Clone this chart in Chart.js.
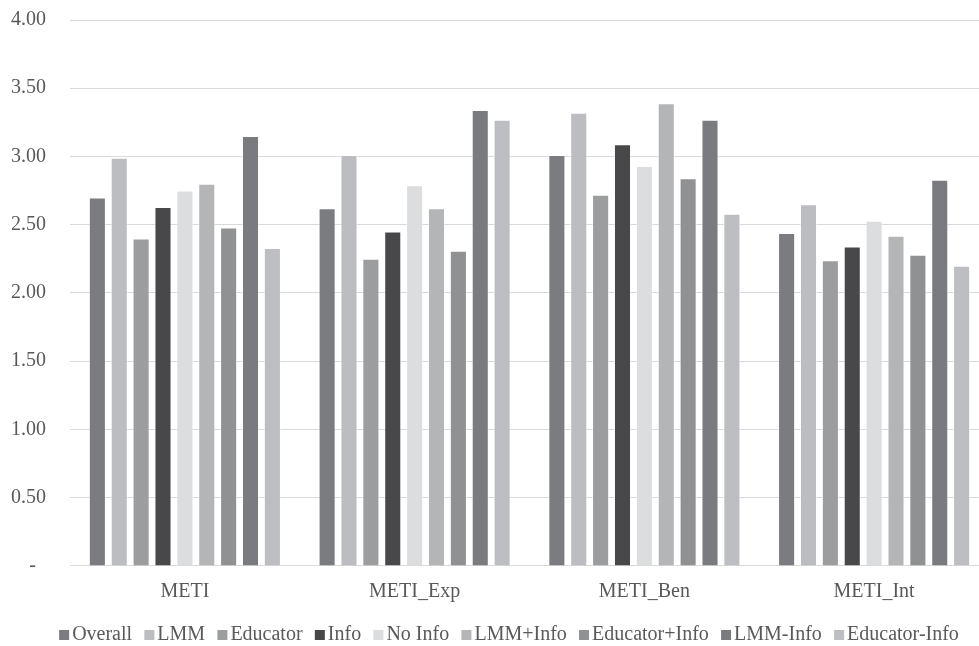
<!DOCTYPE html>
<html>
<head>
<meta charset="utf-8">
<script src="https://cdn.jsdelivr.net/npm/chart.js@4/dist/chart.umd.min.js"></script>
<style>
  html, body { margin: 0; padding: 0; background: #ffffff; overflow: hidden; }
  #wrap { position: relative; width: 1011px; height: 646px; }
</style>
</head>
<body>
<div id="wrap"><canvas id="chart"></canvas></div>
<script>
// Scale groups along the x axis
const categories = ['METI', 'METI_Exp', 'METI_Ben', 'METI_Int'];

// Mean scores per participant group
const overall      = [2.70, 2.62, 3.01, 2.44];
const lmm          = [2.99, 3.01, 3.32, 2.65];
const educator     = [2.40, 2.25, 2.72, 2.24];
const info         = [2.63, 2.45, 3.09, 2.34];
const noInfo       = [2.75, 2.79, 2.93, 2.53];
const lmmInfo      = [2.80, 2.62, 3.39, 2.42];
const educatorInfo = [2.48, 2.31, 2.84, 2.28];
const lmmNoInfo    = [3.15, 3.34, 3.27, 2.83];
const educatorNoInfo = [2.33, 3.27, 2.58, 2.20];

const seriesNames = ['Overall', 'LMM', 'Educator', 'Info', 'No Info',
                     'LMM+Info', 'Educator+Info', 'LMM-Info', 'Educator-Info'];
const seriesValues = [overall, lmm, educator, info, noInfo,
                      lmmInfo, educatorInfo, lmmNoInfo, educatorNoInfo];
const seriesColors = ['#7b7c80', '#bcbdc0', '#9c9d9f', '#48484a', '#dcdddf',
                      '#b4b5b7', '#909193', '#7a7b7f', '#bdbec1'];

// y axis ticks, 0 shown as an accounting dash
const yTicks = [0, 0.5, 1.0, 1.5, 2.0, 2.5, 3.0, 3.5, 4.0];

const textColor = '#595959';
const gridColor = '#d9d9d9';
const font = { family: '"Liberation Serif", "Times New Roman", serif', size: 20 };

const datasets = seriesNames.map((name, i) => ({
  label: name,
  data: seriesValues[i],
  backgroundColor: seriesColors[i],
  borderColor: 'rgba(255,255,255,0.55)',
  borderWidth: 1,
  borderSkipped: 'bottom',
  categoryPercentage: 0.857,
  barPercentage: 0.78
}));

// Legend swatches are drawn closer to their text than Chart.js does by default
const legendSwatches = {
  id: 'legendSwatches',
  afterDraw(chart) {
    const legend = chart.legend;
    if (!legend || !legend.legendHitBoxes) return;
    const ctx = chart.ctx;
    const size = 10;
    ctx.save();
    legend.legendHitBoxes.forEach((box, i) => {
      const textX = box.left + size + font.size / 2;
      const cy = box.top + box.height / 2;
      ctx.fillStyle = seriesColors[i];
      ctx.fillRect(textX - 3 - size, cy - size / 2, size, size);
    });
    ctx.restore();
  }
};

new Chart(document.getElementById('chart'), {
  type: 'bar',
  data: { labels: categories, datasets },
  plugins: [legendSwatches],
  options: {
    responsive: true,
    maintainAspectRatio: false,
    animation: false,
    devicePixelRatio: 1,
    layout: { padding: { top: 20, right: 0, left: 0, bottom: -9 } },
    plugins: {
      tooltip: { enabled: false },
      legend: {
        position: 'bottom',
        labels: {
          font,
          color: textColor,
          boxWidth: 10,
          boxHeight: 10,
          padding: 5.25,
          generateLabels: (chart) => chart.data.datasets.map((ds, i) => ({
            text: ds.label,
            fillStyle: 'rgba(0,0,0,0)',
            strokeStyle: 'rgba(0,0,0,0)',
            lineWidth: 0,
            fontColor: textColor,
            hidden: false,
            datasetIndex: i
          }))
        }
      }
    },
    scales: {
      x: {
        grid: { display: false, drawTicks: false },
        border: { display: true, color: gridColor, width: 1 },
        ticks: { font, color: textColor, padding: 14 },
        afterFit: (axis) => { axis.height = 53.8; }
      },
      y: {
        min: 0,
        max: 4,
        afterBuildTicks: (axis) => { axis.ticks = yTicks.map(v => ({ value: v })); },
        afterFit: (axis) => { axis.width = 70; },
        // invisible tick marks keep the labels clear of the plot area
        grid: { color: gridColor, lineWidth: 1, drawTicks: true, tickLength: 24, tickColor: 'rgba(0,0,0,0)' },
        border: { display: false },
        ticks: {
          font,
          color: textColor,
          padding: 0,
          callback: (v) => (v === 0 ? '-  ' : Number(v).toFixed(2))
        }
      },
      // empty margin on the right of the plot area
      yRight: {
        position: 'right',
        min: 0,
        max: 4,
        afterFit: (axis) => { axis.width = 22; },
        grid: { display: false, drawTicks: false },
        border: { display: false },
        ticks: { display: false }
      }
    }
  }
});
</script>
</body>
</html>
